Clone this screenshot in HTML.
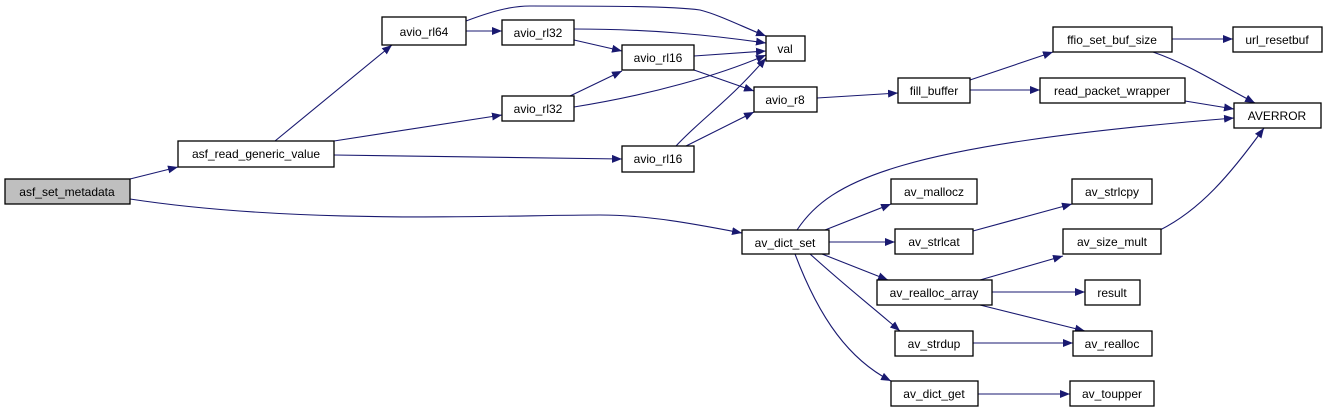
<!DOCTYPE html>
<html><head><meta charset="utf-8"><style>
body{margin:0;background:#fff;}
svg{display:block}
text{font-family:"Liberation Sans",sans-serif;font-size:12px;fill:#000;text-anchor:middle}
rect{fill:#fff;stroke:#000;stroke-width:1.3}
path{fill:none;stroke:#191970;stroke-width:1.1}
</style></head><body>
<svg width="1328" height="413" viewBox="0 0 1328 413">
<defs><marker id="a" markerWidth="10" markerHeight="8" refX="10" refY="4" orient="auto" markerUnits="userSpaceOnUse"><polygon points="0,0 10,4 0,8" fill="#191970"/></marker></defs>
<g marker-end="url(#a)">
<path d="M130,179 L178,167"/>
<path d="M130,199 C300,225 500,215 600,215 C650,215 700,225 742,233"/>
<path d="M275,141 L392,45"/>
<path d="M334,141 L502,115"/>
<path d="M334,155 L622,159"/>
<path d="M466,31 L502,31"/>
<path d="M466,21 C490,12 510,6 530,6 C600,6 670,6 700,10 C720,15 745,28 766,36"/>
<path d="M574,29 C650,29 710,35 766,43"/>
<path d="M574,40 L622,51"/>
<path d="M574,107 C650,95 720,75 766,55"/>
<path d="M570,96 L622,71"/>
<path d="M694,56 L766,51"/>
<path d="M694,70 L754,91"/>
<path d="M676,146 C700,120 730,100 766,58"/>
<path d="M686,146 L754,112"/>
<path d="M817,98 L898,93"/>
<path d="M970,80 L1053,52"/>
<path d="M970,90 L1040,90"/>
<path d="M1172,39 L1233,39"/>
<path d="M1153,52 C1190,65 1215,82 1255,103"/>
<path d="M1185,101 L1234,109"/>
<path d="M797,230 C830,180 900,145 1234,118"/>
<path d="M1160,230 C1200,210 1230,175 1264,128"/>
<path d="M825,230 L891,204"/>
<path d="M829,242 L895,242"/>
<path d="M822,254 L888,280"/>
<path d="M810,254 C850,290 870,305 900,331"/>
<path d="M795,254 C820,320 850,360 891,381"/>
<path d="M973,231 L1072,204"/>
<path d="M980,280 L1063,256"/>
<path d="M992,292 L1085,292"/>
<path d="M980,305 L1085,331"/>
<path d="M973,343 L1073,343"/>
<path d="M978,394 L1070,394"/>
</g>
<rect x="5" y="179" width="125" height="25" style="fill:#bfbfbf"/><text x="67" y="196">asf_set_metadata</text>
<rect x="178" y="141" width="156" height="26"/><text x="256" y="158">asf_read_generic_value</text>
<rect x="382" y="17" width="84" height="28"/><text x="424" y="36">avio_rl64</text>
<rect x="502" y="20" width="72" height="25"/><text x="538" y="37">avio_rl32</text>
<rect x="622" y="45" width="72" height="25"/><text x="658" y="62">avio_rl16</text>
<rect x="766" y="36" width="39" height="25"/><text x="785" y="53">val</text>
<rect x="502" y="96" width="72" height="25"/><text x="538" y="113">avio_rl32</text>
<rect x="754" y="87" width="63" height="25"/><text x="785" y="104">avio_r8</text>
<rect x="622" y="146" width="72" height="26"/><text x="658" y="163">avio_rl16</text>
<rect x="898" y="78" width="72" height="25"/><text x="934" y="95">fill_buffer</text>
<rect x="1053" y="27" width="119" height="25"/><text x="1112" y="44">ffio_set_buf_size</text>
<rect x="1233" y="27" width="89" height="25"/><text x="1277" y="44">url_resetbuf</text>
<rect x="1040" y="78" width="145" height="25"/><text x="1112" y="95">read_packet_wrapper</text>
<rect x="1234" y="103" width="87" height="25"/><text x="1277" y="120">AVERROR</text>
<rect x="891" y="179" width="86" height="25"/><text x="934" y="196">av_mallocz</text>
<rect x="1072" y="179" width="80" height="25"/><text x="1112" y="196">av_strlcpy</text>
<rect x="742" y="230" width="87" height="24"/><text x="785" y="247">av_dict_set</text>
<rect x="895" y="229" width="78" height="25"/><text x="934" y="246">av_strlcat</text>
<rect x="1063" y="229" width="98" height="25"/><text x="1112" y="246">av_size_mult</text>
<rect x="877" y="280" width="115" height="25"/><text x="934" y="297">av_realloc_array</text>
<rect x="1085" y="280" width="55" height="25"/><text x="1112" y="297">result</text>
<rect x="895" y="331" width="78" height="25"/><text x="934" y="348">av_strdup</text>
<rect x="1073" y="331" width="79" height="25"/><text x="1112" y="348">av_realloc</text>
<rect x="891" y="381" width="87" height="25"/><text x="934" y="398">av_dict_get</text>
<rect x="1070" y="381" width="84" height="25"/><text x="1112" y="398">av_toupper</text>
</svg>
</body></html>
